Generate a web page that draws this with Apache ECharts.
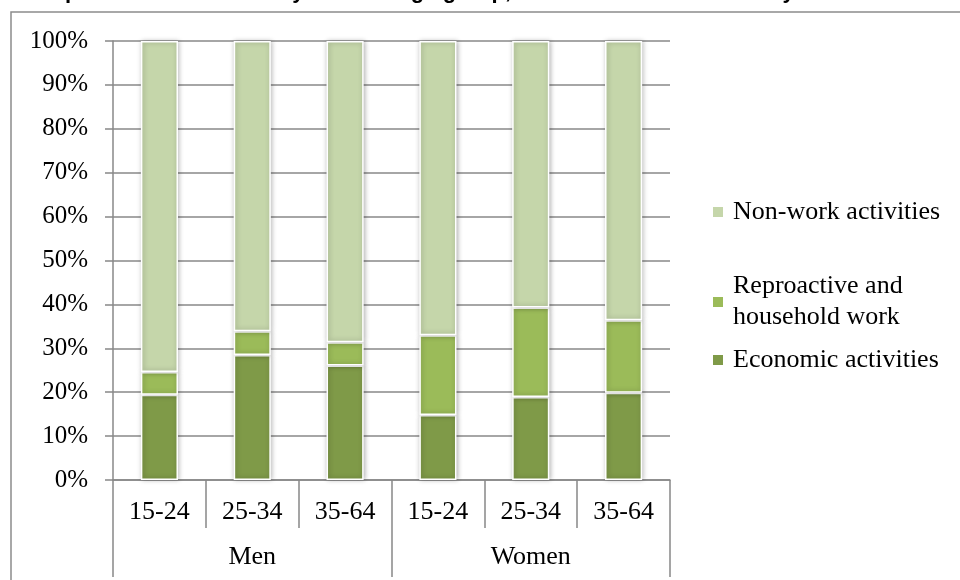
<!DOCTYPE html>
<html>
<head>
<meta charset="utf-8">
<script src="https://cdn.jsdelivr.net/npm/echarts@6/dist/echarts.min.js"></script>
<style>
  html, body { margin: 0; padding: 0; background: #ffffff; }
  #chart { width: 960px; height: 580px; }
</style>
</head>
<body>
<div id="chart"></div>
<script>
// Age groups within each sex, and the sex groups beneath them
const ageGroups = ['15-24', '25-34', '35-64', '15-24', '25-34', '35-64'];
const sexGroups = ['Men', 'Women'];

// Share of time (%) spent in each activity type
const economic = [19.4, 28.5, 26.1, 14.8, 18.9, 19.9];
const reproductive = [5.2, 5.4, 5.3, 18.2, 20.4, 16.5];
const nonWork = [75.4, 66.1, 68.6, 67.0, 60.7, 63.6];

// Y-axis tick labels (percent)
const yTicks = [0, 10, 20, 30, 40, 50, 60, 70, 80, 90, 100];

const seriesNames = ['Economic activities', 'Reproactive and\nhousehold work', 'Non-work activities'];
const seriesColors = ['#7F9A48', '#9BBB59', '#C5D6AA'];

const serif = '"Liberation Serif", "Times New Roman", serif';
const gray = '#888888';
const fontSize = 26;
const lineH = 31;

const chart = echarts.init(document.getElementById('chart'), null, { renderer: 'canvas' });

function barSeries(name, data, color) {
  return {
    name: name,
    type: 'bar',
    stack: 'time',
    xAxisIndex: 0,
    barWidth: '40%',
    data: data,
    itemStyle: {
      color: color,
      borderColor: '#ffffff',
      borderWidth: 1.5,
      shadowColor: 'rgba(0,0,0,0.3)',
      shadowBlur: 5,
      shadowOffsetX: 1
    }
  };
}

function legendText(topPad) {
  return {
    fontFamily: serif,
    fontSize: fontSize,
    color: '#000000',
    lineHeight: lineH,
    padding: [topPad, 0, 0, 5]
  };
}

function legendAt(name, top, topPad) {
  return {
    data: [name],
    left: 713,
    top: top,
    orient: 'vertical',
    padding: 0,
    icon: 'rect',
    itemWidth: 10,
    itemHeight: 10,
    selectedMode: false,
    itemStyle: { borderWidth: 0, shadowBlur: 0 },
    textStyle: legendText(topPad || 0)
  };
}

const option = {
  animation: false,
  backgroundColor: '#ffffff',
  title: {
    text: 'Composition of time use by sex and age group, share of total time in a day',
    left: 16,
    top: -19,
    padding: 0,
    textStyle: {
      fontFamily: '"Liberation Sans", Arial, sans-serif',
      fontWeight: 'bold',
      fontSize: 22,
      color: '#000000'
    }
  },
  graphic: [{
    type: 'rect',
    z: -10,
    shape: { x: 11, y: 12, width: 1000, height: 1000 },
    style: { fill: 'none', stroke: '#8c8c8c', lineWidth: 1.5 },
    silent: true
  }],
  legend: [
    legendAt('Non-work activities', 196.5),
    legendAt('Reproactive and\nhousehold work', 255.5, lineH),
    legendAt('Economic activities', 344.5)
  ],
  grid: {
    left: 113,
    right: 290,
    top: 41,
    bottom: 100,
    containLabel: false
  },
  xAxis: [
    {
      type: 'category',
      position: 'bottom',
      data: ageGroups,
      axisLine: { show: true, lineStyle: { color: gray, width: 1.5 } },
      axisTick: { show: true, interval: 0, length: 48, lineStyle: { color: gray, width: 1.5 } },
      axisLabel: { interval: 0, margin: 19, fontFamily: serif, fontSize: fontSize, color: '#000000' },
      splitLine: { show: false }
    },
    {
      type: 'category',
      position: 'bottom',
      gridIndex: 0,
      data: sexGroups,
      axisLine: { show: false },
      axisTick: { show: true, interval: 0, length: 97, lineStyle: { color: gray, width: 1.5 } },
      axisLabel: { interval: 0, margin: 64, fontFamily: serif, fontSize: fontSize, color: '#000000' },
      splitLine: { show: false }
    }
  ],
  yAxis: {
    type: 'value',
    min: yTicks[0],
    max: yTicks[yTicks.length - 1],
    interval: yTicks[1] - yTicks[0],
    axisLine: { show: true, lineStyle: { color: gray, width: 1.5 } },
    axisTick: { show: true, length: 8, lineStyle: { color: gray, width: 1.5 } },
    axisLabel: { formatter: '{value}%', margin: 25, fontFamily: serif, fontSize: 25, color: '#000000' },
    splitLine: { show: true, lineStyle: { color: gray, width: 1.5 } }
  },
  series: [
    barSeries(seriesNames[0], economic, seriesColors[0]),
    barSeries(seriesNames[1], reproductive, seriesColors[1]),
    barSeries(seriesNames[2], nonWork, seriesColors[2])
  ]
};

chart.setOption(option);
</script>
</body>
</html>
